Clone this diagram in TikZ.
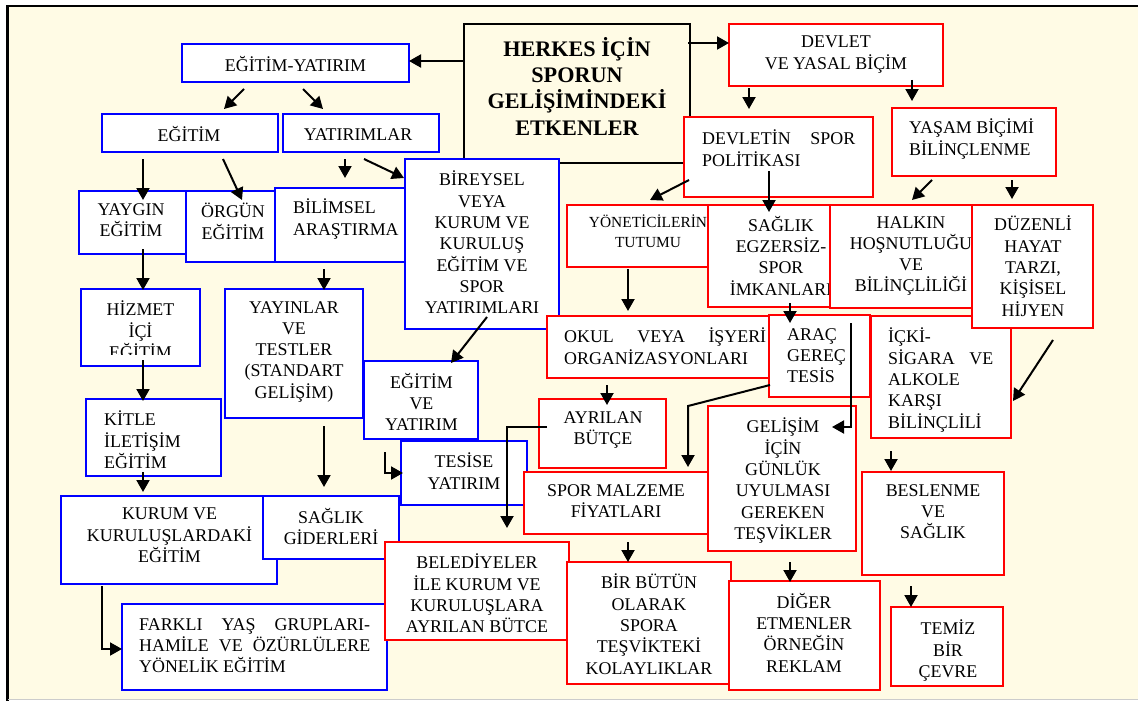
\documentclass[tikz,border=0pt]{standalone}
\usepackage{fontspec}
\setmainfont{Liberation Serif}
\usetikzlibrary{arrows.meta,fit}
\definecolor{cream}{RGB}{255,251,229}
\newcommand\fs{\fontsize{17.9}{21.3}\selectfont}
\newcommand\fsm{\fontsize{15.4}{19.7}\selectfont}
\newcommand\fsb{\fontsize{22.2}{26.3}\selectfont\bfseries}
\newcommand\stt{\rule{0pt}{14pt}}
\newcommand\stb{\rule{0pt}{17pt}}
\begin{document}
\begin{tikzpicture}[x=1pt,y=-1pt,
 bbox/.style={draw=blue, fill=white, line width=1.6pt, inner sep=0pt, outer sep=0pt},
 rbox/.style={draw=red, fill=white, line width=1.6pt, inner sep=0pt, outer sep=0pt},
 kbox/.style={draw=black, fill=cream, line width=1.6pt, inner sep=0pt, outer sep=0pt},
 txt/.style={inner sep=0pt, anchor=north, align=center, font=\fs, execute at begin node=\stt},
 ltxt/.style={inner sep=0pt, anchor=north west, align=left, font=\fs, execute at begin node=\stt},
 arr/.style={-{Triangle[length=12pt,width=13pt]}, line width=2pt}]
\useasboundingbox (0,0) rectangle (1138,701);
\fill[white] (0,0) rectangle (1138,701);
\fill[cream] (8,6) rectangle (1138,699);
\draw[line width=2.5pt] (7.5,701) -- (7.5,6) -- (1138,6);
\draw[black!20, line width=1.5pt] (8,699.5) -- (1138,699.5);

% central box
\node[kbox, fit={(464,24)(690,163)}] (herkes) {};
\node[inner sep=0pt, anchor=north, align=center, font=\fsb, execute at begin node=\stb] (t-herkes) at (577,37) {HERKES İÇİN\\SPORUN\\GELİŞİMİNDEKİ\\ETKENLER};

\node[bbox, fit={(405,159)(559,329)}] (bireysel) {};
\node[txt] (t-bireysel) at (482,171) {BİREYSEL\\VEYA\\KURUM VE\\KURULUŞ\\EĞİTİM VE\\SPOR\\YATIRIMLARI};

\node[rbox, fit={(547,316)(778,378)}] (okul) {};
\node[ltxt] (t-okul) at (564,328) {\hbox to 202pt{OKUL\hfill VEYA\hfill İŞYERİ}\\ORGANİZASYONLARI};

\node[rbox, fit={(769,315)(870,397)}] (arac) {};
\node[ltxt] (t-arac) at (787,328) {ARAÇ\\GEREÇ\\TESİS};

\node[rbox, fit={(684,117)(873,197)}] (devpol) {};
\node[ltxt] (t-devpol) at (702,130) {\hbox to 153pt{DEVLETİN\hfill SPOR}\\POLİTİKASI};

\node[rbox, fit={(729,24)(943,86)}] (devlet) {};
\node[txt] (t-devlet) at (836,36) {DEVLET\\VE YASAL BİÇİM};

\node[rbox, fit={(892,108)(1056,176)}] (yasam) {};
\node[ltxt] (t-yasam) at (909,119) {YAŞAM BİÇİMİ\\BİLİNÇLENME};

\node[rbox, fit={(567,205)(708,267)}] (yonet) {};
\node[txt, font=\fsm] (t-yonet) at (648,215) {YÖNETİCİLERİN\\TUTUMU};

\node[rbox, fit={(708,205)(830,307)}] (saglike) {};
\node[txt] (t-saglike) at (781,216) {SAĞLIK\\EGZERSİZ-\\SPOR\\İMKANLARI};

\node[rbox, fit={(830,205)(972,308)}] (halkin) {};
\node[txt] (t-halkin) at (911,216) {HALKIN\\HOŞNUTLUĞU\\VE\\BİLİNÇLİLİĞİ};

\node[rbox, fit={(871,316)(1011,438)}] (icki) {};
\node[ltxt] (t-icki) at (888,328) {İÇKİ-\\\hbox to 105pt{SİGARA\hfill VE}\\ALKOLE\\KARŞI\\BİLİNÇLİLİ};

\node[rbox, fit={(972,205)(1093,328)}] (duzenli) {};
\node[txt] (t-duzenli) at (1033,216) {DÜZENLİ\\HAYAT\\TARZI,\\KİŞİSEL\\HİJYEN};

% left (blue) side
\node[bbox, fit={(182,44)(409,82)}] (ey) {};
\node[txt] (t-ey) at (295.5,56) {EĞİTİM-YATIRIM};

\node[bbox, fit={(102,114)(278,152)}] (egitim) {};
\node[txt] (t-egitim) at (189,126) {EĞİTİM};

\node[bbox, fit={(283,114)(439,152)}] (yat) {};
\node[txt] (t-yat) at (358,126) {YATIRIMLAR};

\node[bbox, fit={(79,191)(186,254)}] (yaygin) {};
\node[txt] (t-yaygin) at (131,203) {YAYGIN\\EĞİTİM};

\node[bbox, fit={(186,191)(275,262)}] (orgun) {};
\node[txt] (t-orgun) at (233,203) {ÖRGÜN\\EĞİTİM};

\node[bbox, fit={(275,188)(405,262)}] (bilimsel) {};
\node[ltxt] (t-bilimsel) at (293,199) {BİLİMSEL\\ARAŞTIRMA};

\node[bbox, fit={(81,289)(200,366)}] (hizmet) {};
\begin{scope}
\clip (81,289) rectangle (200,354);
\node[txt] (t-hizmet) at (140.5,301) {HİZMET\\İÇİ\\EĞİTİM};
\end{scope}

\node[bbox, fit={(86,399)(221,476)}] (kitle) {};
\node[ltxt] (t-kitle) at (104,411) {KİTLE\\İLETİŞİM\\EĞİTİM};

\node[bbox, fit={(225,289)(363,418)}] (yayin) {};
\node[txt] (t-yayin) at (294,301) {YAYINLAR\\VE\\TESTLER\\(STANDART\\GELİŞİM)};

\node[bbox, fit={(364,361)(478,439)}] (egyat) {};
\node[txt] (t-egyat) at (421.5,373) {EĞİTİM\\VE\\YATIRIM};

\node[bbox, fit={(401,441)(527,505)}] (tesise) {};
\node[txt] (t-tesise) at (464,453) {TESİSE\\YATIRIM};

\node[bbox, fit={(61,496)(277,584)}] (kurum) {};
\node[txt] (t-kurum) at (169.5,508) {KURUM VE\\KURULUŞLARDAKİ\\EĞİTİM};

\node[bbox, fit={(263,496)(399,559)}] (saglikg) {};
\node[txt] (t-saglikg) at (331,508) {SAĞLIK\\GİDERLERİ};

\node[bbox, fit={(122,604)(387,690)}] (farkli) {};
\node[ltxt] (t-farkli) at (139,618) {\hbox to 231pt{FARKLI\hfill YAŞ\hfill GRUPLARI-}\\\hbox to 231pt{HAMİLE\hfill VE\hfill ÖZÜRLÜLERE}\\YÖNELİK EĞİTİM};

% lower (red) side
\node[rbox, fit={(385,542)(569,640)}] (beled) {};
\node[txt] (t-beled) at (477,554) {BELEDİYELER\\İLE KURUM VE\\KURULUŞLARA\\AYRILAN BÜTCE};

\node[rbox, fit={(567,562)(731,684)}] (birbutun) {};
\node[txt] (t-birbutun) at (649,574) {BİR BÜTÜN\\OLARAK\\SPORA\\TEŞVİKTEKİ\\KOLAYLIKLAR};

\node[rbox, fit={(524,472)(708,534)}] (spor) {};
\node[txt] (t-spor) at (616,484) {SPOR MALZEME\\FİYATLARI};

\node[rbox, fit={(539,399)(666,468)}] (ayrilan) {};
\node[txt] (t-ayrilan) at (603,411) {AYRILAN\\BÜTÇE};

\node[rbox, fit={(708,406)(856,551)}] (gelisim) {};
\node[txt] (t-gelisim) at (783,418) {GELİŞİM\\İÇİN\\GÜNLÜK\\UYULMASI\\GEREKEN\\TEŞVİKLER};

\node[rbox, fit={(729,581)(880,690)}] (diger) {};
\node[txt] (t-diger) at (804,593) {DİĞER\\ETMENLER\\ÖRNEĞİN\\REKLAM};

\node[rbox, fit={(862,472)(1004,575)}] (besl) {};
\node[txt] (t-besl) at (933,484) {BESLENME\\VE\\SAĞLIK};

\node[rbox, fit={(891,607)(1003,686)}] (temiz) {};
\node[txt] (t-temiz) at (948,620) {TEMİZ\\BİR\\ÇEVRE};

% connectors
\draw[arr] ([shift={(1,-32.5)}]herkes.west) -- ([shift={(0,-2)}]ey.east);
\draw[arr] ([shift={(-2,-50.5)}]herkes.east) -- ([shift={(0,-12)}]devlet.west);
\draw[arr] ([shift={(-51.5,7)}]ey.south) -- ([shift={(34,-5)}]egitim.north);
\draw[arr] ([shift={(7.5,7)}]ey.south) -- ([shift={(-38,-5)}]yat.north);
\draw[arr] ([shift={(-47,7)}]egitim.south) -- ([shift={(10.5,9)}]yaygin.north);
\draw[arr] ([shift={(33,7)}]egitim.south) -- ([shift={(11.5,9)}]orgun.north);
\draw[arr] ([shift={(-16,7)}]yat.south) -- ([shift={(5,-10)}]bilimsel.north);
\draw[arr] ([shift={(3,7)}]yat.south) -- ([shift={(-1,19)}]bireysel.north west);
\draw[arr] ([shift={(10.5,-5)}]yaygin.south) -- ([shift={(2.5,1)}]hizmet.north);
\draw[arr] ([shift={(2.5,-6)}]hizmet.south) -- ([shift={(-10.5,2)}]kitle.north);
\draw[arr] ([shift={(-10.5,-4)}]kitle.south) -- ([shift={(-26,-4)}]kurum.north);
\draw[arr] ([shift={(-16,7)}]bilimsel.south) -- ([shift={(30,1)}]yayin.north);
\draw[arr] ([shift={(30,8)}]yayin.south) -- ([shift={(-7,-9)}]saglikg.north);
\draw[arr] ([shift={(5,-12)}]bireysel.south) -- ([shift={(30,2)}]egyat.north);
\draw[arr] ([shift={(-36,13)}]egyat.south) |- ([shift={(2,0)}]tesise.west);
\draw[arr] ([shift={(-67,2)}]kurum.south) |- ([shift={(0,2)}]farkli.west);
\draw[arr] ([shift={(-87,2)}]devlet.south) -- ([shift={(-29.5,-8)}]devpol.north);
\draw[arr] ([shift={(76,-6)}]devlet.south) -- ([shift={(-62,-7)}]yasam.north);
\draw[arr] ([shift={(-89.5,-17)}]devpol.south) -- ([shift={(12.5,-5)}]yonet.north);
\draw[arr] ([shift={(-9.5,-26)}]devpol.south) -- ([shift={(0,7)}]saglike.north);
\draw[arr] ([shift={(-42,4)}]yasam.south) -- ([shift={(11,-5)}]halkin.north);
\draw[arr] ([shift={(38,4)}]yasam.south) -- ([shift={(-20.5,-6)}]duzenli.north);
\draw[arr] ([shift={(-9.5,2)}]yonet.south) -- ([shift={(-34.5,-5)}]okul.north);
\draw[arr] ([shift={(21,-4)}]saglike.south) -- ([shift={(-29.5,8)}]arac.north);
\draw[arr] ([shift={(20.5,12)}]duzenli.south) -- ([shift={(2,24)}]icki.east);
\draw[arr] ([shift={(-55.5,7)}]okul.south) -- ([shift={(4.5,6)}]ayrilan.north);
\draw[arr] ([shift={(8,-6.5)}]ayrilan.west) -| ([shift={(30,-14)}]beled.north);
\draw[arr] ([shift={(1,29)}]arac.west) -- ([shift={(72,-66)}]spor.north) -- ([shift={(72,-5)}]spor.north);
\draw[arr] ([shift={(-19,8)}]arac.north east) |- ([shift={(-24,-51.5)}]gelisim.east);
\draw[arr] ([shift={(12,8)}]spor.south) -- ([shift={(-21,0)}]birbutun.north);
\draw[arr] ([shift={(8,11)}]gelisim.south) -- ([shift={(-14.5,1)}]diger.north);
\draw[arr] ([shift={(-50,13)}]icki.south) -- ([shift={(-42,-1)}]besl.north);
\draw[arr] ([shift={(-22,11)}]besl.south) -- ([shift={(-36,0)}]temiz.north);
\end{tikzpicture}
\end{document}
